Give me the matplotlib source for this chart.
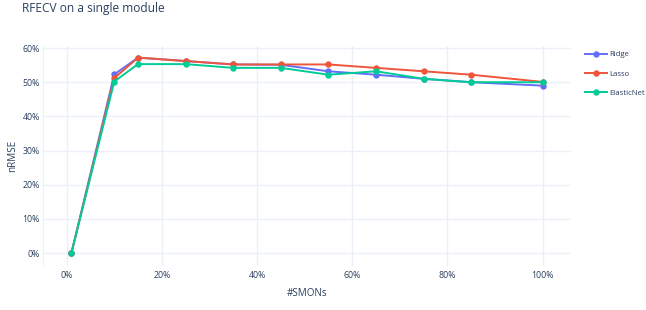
import numpy as np
import matplotlib
matplotlib.use("Agg")
import matplotlib.pyplot as plt
from matplotlib.ticker import PercentFormatter, MultipleLocator

plt.rcParams["font.family"] = ["Open Sans", "DejaVu Sans"]

# share of SMONs kept (%)
smons = [1, 10, 15, 25, 35, 45, 55, 65, 75, 85, 100]

# nRMSE (%)
ridge = [0, 52.3, 57.2, 56.2, 55.2, 55.1, 53.2, 52.2, 51.0, 50.0, 49.0]
lasso = [0, 51.2, 57.2, 56.2, 55.2, 55.2, 55.2, 54.2, 53.2, 52.2, 50.1]
elastic = [0, 50.2, 55.3, 55.3, 54.2, 54.2, 52.2, 53.2, 51.0, 50.0, 50.0]

series = [("Ridge", ridge, "#636EFA"),
          ("Lasso", lasso, "#EF553B"),
          ("ElasticNet", elastic, "#00CC96")]

txt = "#2a3f5f"
grid = "#EBF0F8"

fig = plt.figure(figsize=(6.46, 3.10), dpi=100)
ax = fig.add_axes([0.0666, 0.1419, 0.8174, 0.7097])

for name, vals, col in series:
    ax.plot(smons, vals, color=col, lw=1.4, marker="o", ms=3.6, label=name,
            zorder=3)

ax.set_xlim(-4.97, 106)
ax.set_ylim(-3.8, 60.6)
ax.xaxis.set_major_locator(MultipleLocator(20))
ax.yaxis.set_major_locator(MultipleLocator(10))
ax.xaxis.set_major_formatter(PercentFormatter(decimals=0))
ax.yaxis.set_major_formatter(PercentFormatter(decimals=0))

ax.grid(True, color=grid, lw=1)
ax.set_axisbelow(True)
for s in ["top", "right", "bottom"]:
    ax.spines[s].set_visible(False)
ax.spines["left"].set_color(grid)
ax.tick_params(length=0, labelsize=6.3, labelcolor=txt)
ax.tick_params(axis="y", pad=2.2)
ax.tick_params(axis="x", pad=3.6)

# axis titles placed in figure pixels
fig.text(307 / 646, 1 - 294 / 310, "#SMONs", fontsize=7.1, color=txt,
         ha="center", va="center")
fig.text(13 / 646, 1 - 156 / 310, "nRMSE", fontsize=7.1, color=txt,
         ha="center", va="center", rotation=90)

fig.text(0.034, 0.972, "RFECV on a single module", fontsize=8.6, color=txt,
         ha="left", va="center")

leg = ax.legend(loc="upper left", bbox_to_anchor=(585 / 646, 1 - 51 / 310),
                bbox_transform=fig.transFigure, frameon=False, fontsize=5.6,
                handlelength=2.8, handletextpad=0.3, labelspacing=1.5,
                borderpad=0, borderaxespad=0)
for t in leg.get_texts():
    t.set_color(txt)

fig.savefig("out.png", dpi=100, facecolor="white")
